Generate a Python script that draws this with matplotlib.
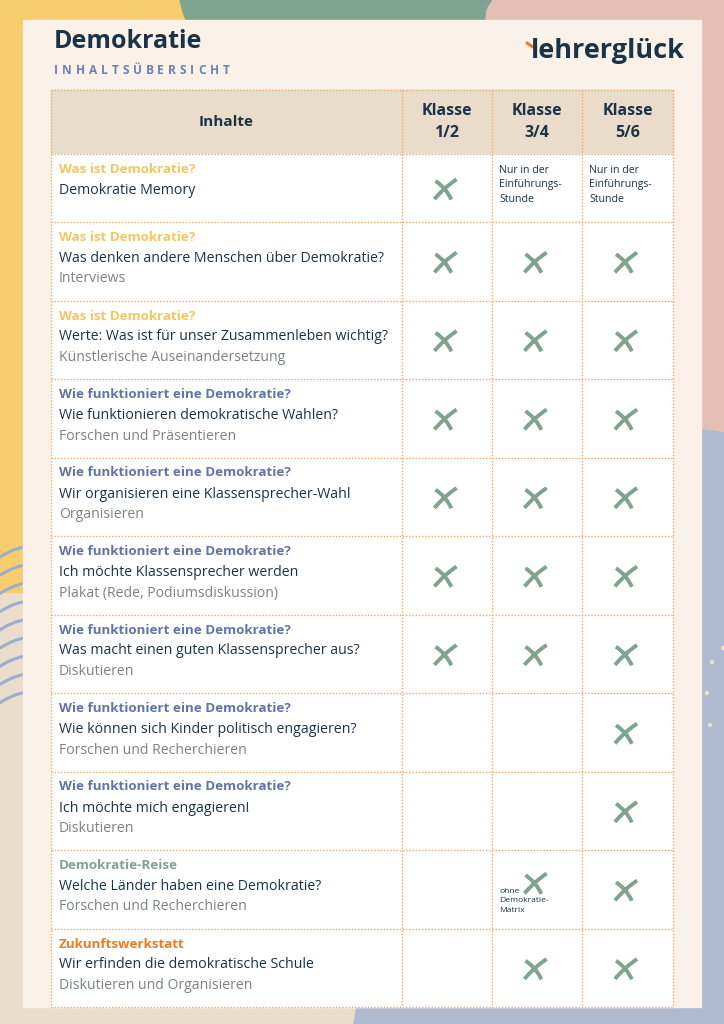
import numpy as np
import matplotlib.pyplot as plt
from matplotlib.path import Path
from matplotlib.patches import Rectangle, Polygon

plt.rcParams['font.family'] = ['Open Sans', 'DejaVu Sans']

# ---- data -------------------------------------------------------------
title = "Demokratie"
subtitle = "INHALTSÜBERSICHT"
logo = "lehrerglück"
header = ["Inhalte", "Klasse\n1/2", "Klasse\n3/4", "Klasse\n5/6"]

categories = ["Was ist Demokratie?"] * 3 + ["Wie funktioniert eine Demokratie?"] * 6 + \
             ["Demokratie-Reise", "Zukunftswerkstatt"]
topics = [
    "Demokratie Memory",
    "Was denken andere Menschen über Demokratie?",
    "Werte: Was ist für unser Zusammenleben wichtig?",
    "Wie funktionieren demokratische Wahlen?",
    "Wir organisieren eine Klassensprecher-Wahl",
    "Ich möchte Klassensprecher werden",
    "Was macht einen guten Klassensprecher aus?",
    "Wie können sich Kinder politisch engagieren?",
    "Ich möchte mich engagieren!",
    "Welche Länder haben eine Demokratie?",
    "Wir erfinden die demokratische Schule",
]
methods = [
    "",
    "Interviews",
    "Künstlerische Auseinandersetzung",
    "Forschen und Präsentieren",
    "Organisieren",
    "Plakat (Rede, Podiumsdiskussion)",
    "Diskutieren",
    "Forschen und Recherchieren",
    "Diskutieren",
    "Forschen und Recherchieren",
    "Diskutieren und Organisieren",
]
checks = np.array([
    [1, 0, 0],
    [1, 1, 1],
    [1, 1, 1],
    [1, 1, 1],
    [1, 1, 1],
    [1, 1, 1],
    [1, 1, 1],
    [0, 0, 1],
    [0, 0, 1],
    [0, 1, 1],
    [0, 1, 1],
])
notes = {
    (0, 1): "Nur in der\nEinführungs-\nStunde",
    (0, 2): "Nur in der\nEinführungs-\nStunde",
    (9, 1): "ohne\nDemokratie-\nMatrix",
}
cat_colors = {
    "Was ist Demokratie?": "#F5C660",
    "Wie funktioniert eine Demokratie?": "#5F74A7",
    "Demokratie-Reise": "#7FA38E",
    "Zukunftswerkstatt": "#EF7B1E",
}

# ---- colours / layout -------------------------------------------------
NAVY = "#1B3347"
GREY = "#7C8184"
GREEN = "#7FA38E"
GRID = "#F4A864"
CARD = "#FAF1E8"
HEAD = "#EADCCB"

col_x = [51, 402, 492, 582, 673]
row_y = [154, 222] + [222 + 78.5 * i for i in range(1, 11)]
head_y = (90, 154)

fig = plt.figure(figsize=(7.24, 10.24), dpi=100)
ax = fig.add_axes([0, 0, 1, 1])
ax.set_xlim(0, 724)
ax.set_ylim(1024, 0)
ax.axis("off")

# background blobs
ax.add_patch(Rectangle((0, 0), 724, 1024, color="#EADDCB", zorder=0))
ax.add_patch(Rectangle((0, 0), 200, 592, color="#F6CC6D", zorder=0.1))
ax.add_patch(Polygon([(180, 0), (495, 0), (488, 10), (485, 30), (190, 30), (183, 12)],
                     color="#7FA38E", zorder=0.2))
ax.add_patch(Polygon([(493, 0), (724, 0), (724, 433), (690, 428), (690, 30), (485, 30), (487, 10)],
                     color="#E3BFB6", zorder=0.2))
ax.add_patch(Polygon([(690, 428), (724, 433), (724, 1024), (354, 1024), (358, 1000), (690, 1000)],
                     color="#ADBAD0", zorder=0.2))
for k in range(9):
    yy = 547 + 18.2 * k
    xs = np.linspace(0, 26, 30)
    ax.plot(xs, yy + 10 * (1 - xs / 26) ** 1.6, color="#9AAED0", lw=2.2, zorder=0.3,
            solid_capstyle="round")
for px, py in [(712, 662), (707, 693), (710, 725), (723, 648)]:
    ax.add_patch(plt.Circle((px, py), 1.6, color="#EADDCB", zorder=0.3))

# card
ax.add_patch(Rectangle((23, 20), 678, 987, color=CARD, zorder=0.5))

# title block
ax.text(54, 41, title, fontsize=18, fontweight="bold", color=NAVY, va="center", ha="left")

renderer = fig.canvas.get_renderer()
xpos = 54
for ch in subtitle:
    t = ax.text(xpos, 71, ch, fontsize=8.6, fontweight="bold", color="#6B80B0",
                va="center", ha="left")
    w = t.get_window_extent(renderer).width
    xpos += w + 3.9

ax.text(531, 51, logo, fontsize=19.5, fontweight="bold", color=NAVY,
        va="center", ha="left")
ax.plot([527, 533], [43, 47], color="#EF7B1E", lw=2.2, solid_capstyle="round")

# table fills
ax.add_patch(Rectangle((col_x[0], head_y[0]), col_x[-1] - col_x[0], head_y[1] - head_y[0],
                       color=HEAD, zorder=1))
ax.add_patch(Rectangle((col_x[0], row_y[0]), col_x[-1] - col_x[0], row_y[-1] - row_y[0],
                       color="white", zorder=1))

# grid
grid_kw = dict(color=GRID, lw=1, ls=(0, (1, 1.3)), zorder=2)
for y in [head_y[0]] + row_y:
    ax.plot([col_x[0], col_x[-1]], [y, y], **grid_kw)
for x in col_x:
    ax.plot([x, x], [head_y[0], row_y[-1]], **grid_kw)

# header text
ax.text((col_x[0] + col_x[1]) / 2, 122, header[0], fontsize=11, fontweight="bold",
        color=NAVY, ha="center", va="center", zorder=3)
for j in range(3):
    ax.text((col_x[j + 1] + col_x[j + 2]) / 2, 122, header[j + 1], fontsize=11.5,
            fontweight="bold", color=NAVY, ha="center", va="center", linespacing=1.45,
            zorder=3)

# row text
for i, (cat, top, meth) in enumerate(zip(categories, topics, methods)):
    y0 = row_y[i]
    ax.text(59, y0 + 15.5, cat, fontsize=9.6, fontweight="bold", color=cat_colors[cat],
            va="center", ha="left", zorder=3)
    ax.text(59, y0 + 36.5, top, fontsize=10.2, color=NAVY, va="center", ha="left", zorder=3)
    if meth:
        ax.text(59, y0 + 57, meth, fontsize=10.1, color=GREY, va="center", ha="left", zorder=3)

# check marker (brush-like X)
verts = [(-0.50, -0.48), (0.00, 0.10), (0.55, 0.46),
         (-0.45, 0.38), (0.05, 0.05), (0.30, -0.50)]
codes = [Path.MOVETO, Path.CURVE3, Path.CURVE3,
         Path.MOVETO, Path.CURVE3, Path.CURVE3]
xmark = Path(verts, codes)

cx, cy = [], []
for i in range(checks.shape[0]):
    for j in range(3):
        if checks[i, j]:
            xc = (col_x[j + 1] + col_x[j + 2]) / 2 - 2
            yc = (row_y[i] + row_y[i + 1]) / 2 + 1
            if (i, j) in notes:
                yc -= 7
            cx.append(xc)
            cy.append(yc)
ax.scatter(cx, cy, marker=xmark, s=280, facecolors="none", edgecolors=GREEN,
           linewidths=2.8, zorder=4)

# notes
for (i, j), txt in notes.items():
    y0 = row_y[i]
    if i == 0:
        ax.text(col_x[j + 1] + 7, y0 + 31, txt, fontsize=7.6, color=NAVY, ha="left",
                va="center", linespacing=1.45, zorder=5)
    else:
        ax.text(col_x[j + 1] + 7, y0 + 51, txt, fontsize=6.1, color=NAVY, ha="left",
                va="center", linespacing=1.5, zorder=5)

fig.savefig("out.png", dpi=100)
